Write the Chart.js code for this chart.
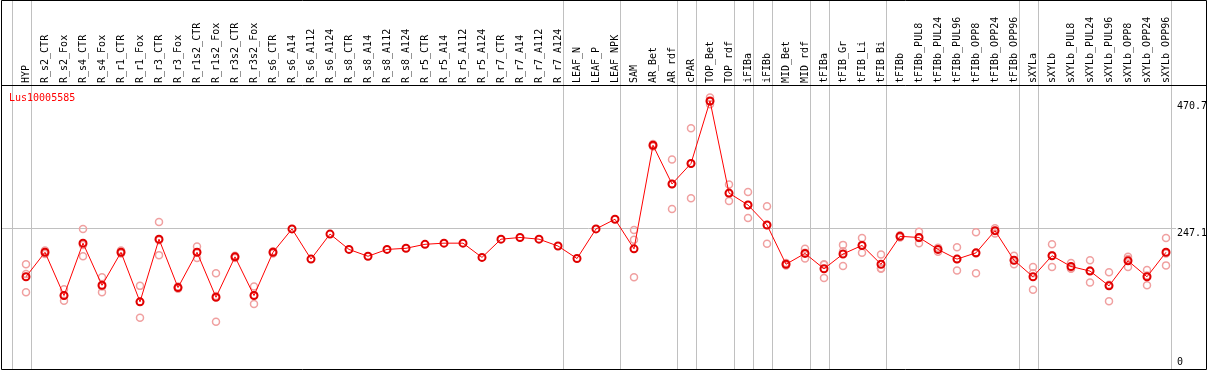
<!DOCTYPE html>
<html>
<head>
<meta charset="utf-8">
<script src="https://cdn.jsdelivr.net/npm/chart.js@4.4.1/dist/chart.umd.min.js"></script>
<style>
html,body{margin:0;padding:0;background:#fff;}
canvas{display:block;}
</style>
</head>
<body>
<canvas id="c" width="1209" height="370"></canvas>
<script>
const geneId = 'Lus10005585';
const categories = ['HYP','R_s2_CTR','R_s2_Fox','R_s4_CTR','R_s4_Fox','R_r1_CTR','R_r1_Fox','R_r3_CTR','R_r3_Fox','R_r1s2_CTR','R_r1s2_Fox','R_r3s2_CTR','R_r3s2_Fox','R_s6_CTR','R_s6_A14','R_s6_A112','R_s6_A124','R_s8_CTR','R_s8_A14','R_s8_A112','R_s8_A124','R_r5_CTR','R_r5_A14','R_r5_A112','R_r5_A124','R_r7_CTR','R_r7_A14','R_r7_A112','R_r7_A124','LEAF_N','LEAF_P','LEAF_NPK','SAM','AR_Bet','AR_rdf','cPAR','TOP_Bet','TOP_rdf','iFIBa','iFIBb','MID_Bet','MID_rdf','tFIBa','tFIB_Gr','tFIB_Li','tFIB_Bi','tFIBb','tFIBb_PUL8','tFIBb_PUL24','tFIBb_PUL96','tFIBb_OPP8','tFIBb_OPP24','tFIBb_OPP96','sXYLa','sXYLb','sXYLb_PUL8','sXYLb_PUL24','sXYLb_PUL96','sXYLb_OPP8','sXYLb_OPP24','sXYLb_OPP96'];
const means = [162,205,129,221,147,205,118,228,143,205,126,197,129,205,246,193,237,210,198,210,212,219,221,221,196,228,231,228,216,194,246,263,211,393,325,361,470.7,309,288,253,184,203,176,202,217,184,233,231,210,193,204,243,191,162,199,180,172,146,190,162,205];
const rep1 = [184,208,140,246,161,208,146,258,145,215,168,199,145,207,null,null,null,null,null,null,null,null,null,null,null,null,null,null,null,null,null,null,244,395,368,423,477,324,311,286,185,211,184,218,230,201,235,241,213,214,240,247,199,179,219,186,191,170,197,174,230];
const rep2 = [135,202,120,198,135,203,90,200,141,195,83,195,114,203,null,null,null,null,null,null,null,null,null,null,null,null,null,null,null,null,null,null,161,391,281,300,465,295,265,220,182,194,160,181,204,176,231,221,206,173,168,238,184,139,179,176,152,119,179,147,182];
const rep3 = [167,205,129,218,145,205,118,226,143,205,128,197,130,205,null,null,null,null,null,null,null,null,null,null,null,null,null,null,null,null,null,null,227,393,325,361,470,308,288,253,186,204,183,207,218,177,233,230,210,193,203,243,191,168,200,177,173,148,193,164,203];
const yTickValues = [0, 247.1, 470.7];
const groupEnds = ['HYP','R_r7_A124','LEAF_NPK','AR_rdf','cPAR','TOP_rdf','iFIBa','iFIBb','MID_rdf','tFIBa','tFIB_Bi','tFIBb_OPP96','sXYLa','sXYLb_OPP96'];

const meanPoints = means.map((v, i) => ({x: i, y: v}));
const repPoints = [];
[rep1, rep2, rep3].forEach(r => r.forEach((v, i) => { if (v !== null) repPoints.push({x: i, y: v}); }));

const FONT = {family: '"DejaVu Sans Mono", monospace', size: 10};

const framePlugin = {
  id: 'frame',
  beforeDatasetsDraw(chart) {
    const ctx = chart.ctx, xs = chart.scales.x;
    ctx.save();
    ctx.strokeStyle = '#c0c0c0';
    ctx.lineWidth = 1;
    const seps = [-1].concat(groupEnds.map(n => categories.indexOf(n)));
    seps.forEach(i => {
      const px = Math.round(xs.getPixelForValue(i + 0.25)) + 0.5;
      ctx.beginPath();
      ctx.moveTo(px, 0);
      ctx.lineTo(px, chart.chartArea.bottom);
      ctx.stroke();
    });
    ctx.restore();
  },
  afterDraw(chart) {
    const ctx = chart.ctx, a = chart.chartArea;
    ctx.save();
    ctx.strokeStyle = '#000';
    ctx.lineWidth = 1;
    ctx.beginPath();
    ctx.rect(1.5, 0.5, 1205, a.bottom);
    ctx.moveTo(1.5, a.top + 0.5);
    ctx.lineTo(1206.5, a.top + 0.5);
    ctx.stroke();
    ctx.fillStyle = '#ff0000';
    ctx.font = '10px "DejaVu Sans Mono", monospace';
    ctx.textBaseline = 'alphabetic';
    ctx.textAlign = 'left';
    ctx.fillText(geneId, 9, 101);
    ctx.restore();
  }
};

new Chart(document.getElementById('c'), {
  type: 'line',
  data: {
    datasets: [
      {
        label: geneId,
        data: meanPoints,
        borderColor: '#ff0000',
        borderWidth: 1,
        pointRadius: 3.5,
        pointBorderWidth: 2,
        pointBorderColor: '#e00000',
        pointBackgroundColor: 'rgba(0,0,0,0)',
        tension: 0,
        order: 0
      },
      {
        label: geneId + ' replicates',
        data: repPoints,
        showLine: false,
        pointRadius: 3.5,
        pointBorderWidth: 1.5,
        pointBorderColor: '#f0a0a0',
        pointBackgroundColor: 'rgba(0,0,0,0)',
        order: 1
      }
    ]
  },
  options: {
    responsive: false,
    animation: false,
    devicePixelRatio: 1,
    layout: {autoPadding: false, padding: {left: 1, right: 0, top: 0, bottom: 1}},
    plugins: {legend: {display: false}, tooltip: {enabled: false}},
    scales: {
      x: {
        type: 'linear',
        position: 'top',
        min: -1.3158,
        max: 60.526,
        afterBuildTicks: s => { s.ticks = categories.map((_, i) => ({value: i})); },
        afterFit: s => { s.height = 85; s.paddingLeft = 0; s.paddingRight = 0; },
        grid: {display: false, drawTicks: false},
        border: {display: false},
        ticks: {
          autoSkip: false, minRotation: 90, maxRotation: 90, padding: 2, labelOffset: 12,
          font: FONT, color: '#000',
          callback: v => categories[v]
        }
      },
      y: {
        type: 'linear',
        position: 'right',
        min: 0,
        max: 498.8,
        afterBuildTicks: s => { s.ticks = yTickValues.map(v => ({value: v})); },
        afterFit: s => { s.width = 33; s.paddingTop = 0; s.paddingBottom = 0; },
        grid: {
          drawTicks: false,
          color: c => (c.tick && c.tick.value === 247.1) ? '#c0c0c0' : 'rgba(0,0,0,0)'
        },
        border: {display: false},
        ticks: {
          align: 'start', padding: 1, font: FONT, color: '#000',
          callback: v => v === 0 ? ['0', '', ''] : String(v)
        }
      }
    }
  },
  plugins: [framePlugin]
});
</script>
</body>
</html>
